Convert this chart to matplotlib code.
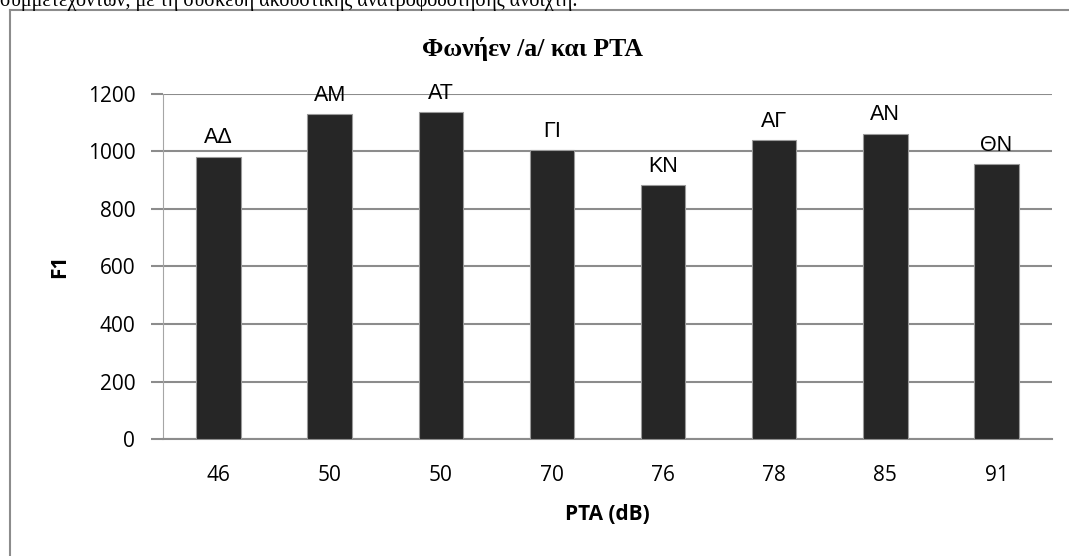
import matplotlib
matplotlib.use("Agg")
import matplotlib.pyplot as plt
from matplotlib.lines import Line2D

# Δεδομένα: PTA κάθε συμμετέχοντα και F1 του φωνήεντος /a/
pta = ["46", "50", "50", "70", "76", "78", "85", "91"]
f1 = [982, 1130, 1136, 1004, 882, 1039, 1061, 955]
ονόματα = ["ΑΔ", "ΑΜ", "ΑΤ", "ΓΙ", "ΚΝ", "ΑΓ", "ΑΝ", "ΘΝ"]

W, H = 1069, 556
fig = plt.figure(figsize=(W / 100, H / 100), dpi=100)

# λεζάντα του κειμένου από πάνω (κομμένη στην άκρη)
fig.text(0.0, 1 - 6 / H, "συμμετεχόντων, με τη συσκευή ακουστικής ανατροφοδότησης ανοιχτή.",
         family="Liberation Serif", fontsize=14.5, va="baseline", ha="left")

# πλαίσιο του γραφήματος
grey = "#8c8c8c"
fig.add_artist(Line2D([10 / W, 1], [1 - 10 / H, 1 - 10 / H], color=grey, lw=1.5,
                      transform=fig.transFigure))
fig.add_artist(Line2D([10 / W, 10 / W], [0, 1 - 10 / H], color=grey, lw=1.5,
                      transform=fig.transFigure))

ax = fig.add_axes([163 / W, (H - 439) / H, (1052 - 163) / W, (439 - 94) / H])

x = range(len(pta))
bars = ax.bar(x, f1, width=0.4, color="#262626", edgecolor="#9a9a9a", linewidth=0.8, zorder=3)

for xi, v, n in zip(x, f1, ονόματα):
    ax.annotate(n, (xi, v), xytext=(0, 19), textcoords="offset pixels",
                ha="center", va="center", fontsize=15.5, family="Liberation Sans", zorder=4)

ax.set_xlim(-0.5, len(pta) - 0.5)
ax.set_ylim(0, 1200)
ax.set_yticks(range(0, 1201, 200))
ax.set_xticks(list(x))
ax.set_xticklabels(pta)

ax.grid(axis="y", color=grey, lw=1.5, zorder=0)
for s in ["top", "right"]:
    ax.spines[s].set_visible(False)
ax.spines["left"].set_color("#a6a6a6")
ax.spines["bottom"].set_color(grey)
ax.spines["bottom"].set_linewidth(1.5)

ax.tick_params(axis="y", length=9, width=1.5, color=grey, pad=11, labelsize=15)
ax.tick_params(axis="x", length=0, pad=19, labelsize=15)
for lab in ax.get_xticklabels() + ax.get_yticklabels():
    lab.set_family("Open Sans")

ax.set_xlabel("PTA (dB)", family="Open Sans", fontweight="bold", fontsize=15)
ax.xaxis.set_label_coords(0.5, -76 / 345)
ax.xaxis.label.set_va("center")
ax.set_ylabel("F1", family="Open Sans", fontweight="bold", fontsize=15)
ax.yaxis.set_label_coords(-103 / 889, 0.5)
ax.yaxis.label.set_va("center")

fig.text(532 / W, 1 - 49 / H, "Φωνήεν /a/ και PTA", family="Liberation Serif",
         fontweight="bold", fontsize=18.5, ha="center", va="center")

fig.savefig("out.png", dpi=100)
